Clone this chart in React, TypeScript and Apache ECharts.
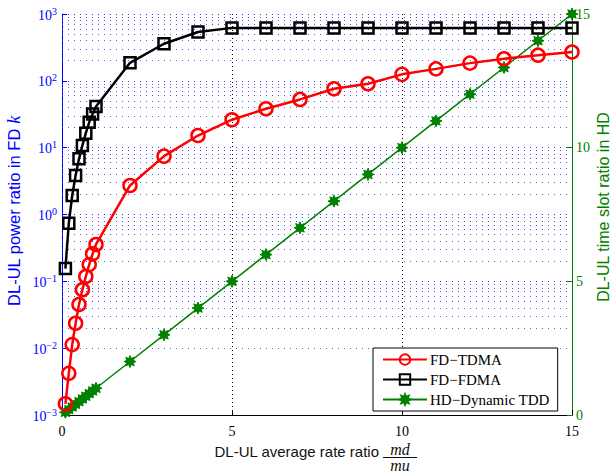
import React, { useEffect, useRef } from "react";
import * as echarts from "echarts";

const xValues = [0.1, 0.2, 0.3, 0.4, 0.5, 0.6, 0.7, 0.8, 0.9, 1.0, 2, 3, 4, 5, 6, 7, 8, 9, 10, 11, 12, 13, 14, 15];
const fdTdma = [0.00147, 0.0042, 0.0113, 0.0236, 0.045, 0.075, 0.118, 0.178, 0.258, 0.356, 2.72, 7.46, 15.2, 26.2, 38.2, 52.7, 76, 90.5, 125, 151, 184, 214, 242, 270];
const fdFdma = [0.155, 0.74, 1.92, 3.84, 6.8, 10.8, 16.5, 24, 32, 41.4, 186, 359, 537, 620, 615, 615, 615, 615, 615, 615, 615, 615, 615, 615];
const hdDynamic = [0.1, 0.2, 0.3, 0.4, 0.5, 0.6, 0.7, 0.8, 0.9, 1.0, 2, 3, 4, 5, 6, 7, 8, 9, 10, 11, 12, 13, 14, 15];
const seriesNames = ["FD\u2212TDMA", "FD\u2212FDMA", "HD\u2212Dynamic TDD"];
const xTicks = [0, 5, 10, 15];
const decadeExponents = [-3, -2, -1, 0, 1, 2];
const minorMultipliers = [2, 3, 4, 5, 6, 7, 8, 9];

const minorValues: number[] = [];
decadeExponents.forEach((e) => minorMultipliers.forEach((m) => minorValues.push(m * Math.pow(10, e))));

// 8-point star marker path
function starPath(): string {
  const pts: string[] = [];
  for (let i = 0; i < 16; i++) {
    const a = (i * Math.PI) / 8 - Math.PI / 2;
    const r = i % 2 === 0 ? 10 : 5.5;
    pts.push((10 + r * Math.cos(a)).toFixed(2) + "," + (10 + r * Math.sin(a)).toFixed(2));
  }
  return "path://M" + pts.join("L") + "Z";
}

const SERIF = "'Liberation Serif', 'DejaVu Serif', serif";
const SANS = "'Liberation Sans', Arial, sans-serif";

export default function App() {
  const ref = useRef<HTMLDivElement>(null);
  useEffect(() => {
    if (!ref.current) return;
    const chart = echarts.init(ref.current, null, { renderer: "svg" });
    const pair = (ys: number[]) => xValues.map((x, i) => [x, ys[i]]);
    const option: any = {
      animation: false,
      backgroundColor: "#fff",
      grid: { left: 62, right: 38, top: 14, bottom: 58, containLabel: false },
      xAxis: {
        type: "value",
        min: 0,
        max: 15,
        interval: 5,
        axisLine: { show: true, onZero: false, lineStyle: { color: "#000", width: 1 } },
        axisTick: { show: true, inside: true, length: 5, lineStyle: { color: "#000" } },
        axisLabel: {
          color: "#000",
          fontFamily: SERIF,
          fontSize: 14,
          margin: 9,
          formatter: (v: number) => (xTicks.indexOf(v) >= 0 ? String(v) : ""),
        },
        splitLine: { show: true, lineStyle: { color: "#000", type: [1, 3], width: 1 } },
      },
      yAxis: [
        {
          type: "log",
          logBase: 10,
          min: 0.001,
          max: 1000,
          splitNumber: 6,
          position: "left",
          axisLine: { show: true, lineStyle: { color: "#0000ff", width: 1 } },
          axisTick: { show: true, inside: true, length: 5, lineStyle: { color: "#0000ff" } },
          axisLabel: {
            margin: 5,
            formatter: (v: number) => {
              const e = Math.round(Math.log10(v));
              return "{b|10}{s|" + (e < 0 ? "\u2212" + -e : String(e)) + "}";
            },
            rich: {
              b: { fontFamily: SERIF, fontSize: 14, color: "#0000ff", lineHeight: 16, verticalAlign: "bottom" },
              s: { fontFamily: SERIF, fontSize: 10, color: "#0000ff", lineHeight: 10, verticalAlign: "top", padding: [0, 0, 8, 0] },
            },
          },
          splitLine: { show: true, lineStyle: { color: "#3333ff", type: [1, 5], width: 1 } },
        },
        {
          type: "value",
          min: 0,
          max: 15,
          interval: 5,
          position: "right",
          axisLine: { show: true, lineStyle: { color: "#008000", width: 1 } },
          axisTick: { show: true, inside: true, length: 5, lineStyle: { color: "#008000" } },
          axisLabel: { color: "#008000", fontFamily: SERIF, fontSize: 14, margin: 4 },
          splitLine: { show: false },
        },
      ],
      legend: {
        left: 373,
        top: 348,
        orient: "vertical",
        backgroundColor: "#fff",
        borderColor: "#000",
        borderWidth: 1,
        padding: [4, 8, 4, 9],
        itemGap: 5,
        itemWidth: 44,
        itemHeight: 13,
        textStyle: { fontFamily: SERIF, fontSize: 15, color: "#000", padding: [0, 0, 0, -2] },
        data: seriesNames,
      },
      graphic: [
        {
          type: "text",
          x: 14,
          y: 211,
          rotation: Math.PI / 2,
          style: {
            text: "DL-UL power ratio in FD {k|k}",
            rich: { k: { fontFamily: SERIF, fontStyle: "italic", fontSize: 18, fill: "#0000ff" } },
            fill: "#0000ff",
            font: "16.5px " + SANS,
            align: "center",
            verticalAlign: "middle",
          },
        },
        {
          type: "text",
          x: 603,
          y: 207,
          rotation: Math.PI / 2,
          style: {
            text: "DL-UL time slot ratio in HD",
            fill: "#008000",
            font: "16px " + SANS,
            align: "center",
            verticalAlign: "middle",
          },
        },
        {
          type: "text",
          x: 379,
          y: 451,
          style: { text: "DL-UL average rate ratio", fill: "#111", font: "15px " + SANS, align: "right", verticalAlign: "middle" },
        },
        {
          type: "text",
          x: 400,
          y: 449,
          style: { text: "md", fill: "#111", font: "italic 16px " + SERIF, align: "center", verticalAlign: "middle" },
        },
        {
          type: "line",
          shape: { x1: 383, y1: 457.5, x2: 417, y2: 457.5 },
          style: { stroke: "#111", lineWidth: 1 },
        },
        {
          type: "text",
          x: 400,
          y: 465,
          style: { text: "mu", fill: "#111", font: "italic 16px " + SERIF, align: "center", verticalAlign: "middle" },
        },
      ],
      series: [
        {
          name: seriesNames[0],
          type: "line",
          yAxisIndex: 0,
          data: pair(fdTdma),
          symbol: "circle",
          symbolSize: 13,
          z: 4,
          lineStyle: { color: "#ff0000", width: 2.5 },
          itemStyle: { color: "rgba(255,255,255,0)", borderColor: "#ff0000", borderWidth: 2.5 },
          markLine: {
            silent: true,
            z: 1,
            symbol: "none",
            label: { show: false },
            lineStyle: { color: "#5555ff", type: [1, 5], width: 1 },
            emphasis: { disabled: true },
            data: minorValues.map((v) => ({ yAxis: v })),
          },
        },
        {
          name: seriesNames[1],
          type: "line",
          yAxisIndex: 0,
          data: pair(fdFdma),
          symbol: "rect",
          symbolSize: 11,
          z: 4,
          lineStyle: { color: "#000", width: 2.5 },
          itemStyle: { color: "rgba(255,255,255,0)", borderColor: "#000", borderWidth: 2.5 },
        },
        {
          name: seriesNames[2],
          type: "line",
          yAxisIndex: 1,
          data: pair(hdDynamic),
          symbol: starPath(),
          symbolSize: 12,
          z: 3,
          lineStyle: { color: "#008000", width: 1.5 },
          itemStyle: { color: "#008000", borderColor: "#008000", borderWidth: 1 },
        },
      ],
    };
    chart.setOption(option);
    return () => chart.dispose();
  }, []);
  return <div ref={ref} style={{ width: 610, height: 473, position: "absolute", left: 0, top: 0 }} />;
}
